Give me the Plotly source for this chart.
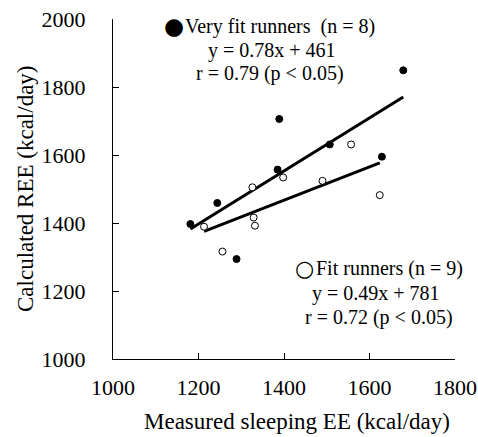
import plotly.graph_objects as go

# Data
very_fit_x = [1181, 1244, 1289, 1385, 1389, 1507, 1629, 1679]
very_fit_y = [1397, 1459, 1294, 1557, 1706, 1631, 1595, 1849]
fit_x = [1213, 1256, 1326, 1329, 1332, 1398, 1490, 1557, 1624]
fit_y = [1389, 1316, 1505, 1416, 1392, 1534, 1524, 1631, 1482]

very_fit_fit = (0.78, 461)
fit_fit = (0.49, 781)

x_ticks = [1000, 1200, 1400, 1600, 1800]
y_ticks = [1000, 1200, 1400, 1600, 1800, 2000]

very_fit_label = ["Very fit runners&nbsp;&nbsp;(n = 8)", "y = 0.78x + 461", "r = 0.79 (p < 0.05)"]
fit_label = ["Fit runners (n = 9)", "y = 0.49x + 781", "r = 0.72 (p < 0.05)"]
x_title = "Measured sleeping EE (kcal/day)"
y_title = "Calculated REE (kcal/day)"

FONT = "Liberation Serif, Times New Roman, serif"

def reg_line(xs, coef):
    x0, x1 = min(xs), max(xs)
    return [x0, x1], [coef[0] * x0 + coef[1], coef[0] * x1 + coef[1]]

fig = go.Figure()

lx, ly = reg_line(very_fit_x, very_fit_fit)
fig.add_trace(go.Scatter(x=lx, y=ly, mode="lines", line=dict(color="black", width=3), showlegend=False))
lx, ly = reg_line(fit_x, fit_fit)
fig.add_trace(go.Scatter(x=lx, y=ly, mode="lines", line=dict(color="black", width=3), showlegend=False))

fig.add_trace(go.Scatter(x=very_fit_x, y=very_fit_y, mode="markers",
                         marker=dict(color="black", size=7, line=dict(color="black", width=1)),
                         name="Very fit runners", showlegend=False))
fig.add_trace(go.Scatter(x=fit_x, y=fit_y, mode="markers",
                         marker=dict(color="white", size=7, line=dict(color="black", width=1)),
                         name="Fit runners", showlegend=False))

W, H = 478, 437
ML, MR, MT, MB = 113, 23, 19, 78
def px_to_paper(px, py):
    return (px - ML) / (W - ML - MR), 1 - (py - MT) / (H - MT - MB)

txt_font = dict(family=FONT, size=20, color="black")

block1 = [(280, 26), (272, 50), (270, 73)]
block2 = [(389, 268), (376, 293), (379, 317)]

def add_text(text, px, py, font, angle=0):
    x, y = px_to_paper(px, py)
    fig.add_annotation(x=x, y=y, xref="paper", yref="paper", showarrow=False,
                       xanchor="center", yanchor="middle", text=text, font=font,
                       textangle=angle)

for text, (px, py) in zip(very_fit_label, block1):
    add_text(text, px, py, txt_font)
for text, (px, py) in zip(fit_label, block2):
    add_text(text, px, py, txt_font)

# legend symbols next to the block headings
add_text("●", 174, 26, dict(family="DejaVu Sans", size=23, color="black"))
add_text("○", 304, 268, dict(family="DejaVu Sans", size=22, color="black"))

# axis titles
add_text(x_title, 297, 421, dict(family=FONT, size=23, color="black"))
add_text(y_title, 25, 189, dict(family=FONT, size=23, color="black"), angle=-90)

fig.update_layout(
    width=W, height=H,
    margin=dict(l=ML, r=MR, t=MT, b=MB, autoexpand=False),
    plot_bgcolor="white", paper_bgcolor="white",
    font=dict(family=FONT, size=20, color="black"),
    xaxis=dict(range=[1000, 1800], tickvals=x_ticks, ticktext=[str(v) for v in x_ticks],
               showgrid=False, zeroline=False, showline=True, linecolor="black", linewidth=1,
               ticks="inside", ticklen=6, tickcolor="black", ticklabeloverflow="allow",
               automargin=False,
               tickfont=dict(family=FONT, size=22), ticklabelstandoff=9),
    yaxis=dict(range=[1000, 2000], tickvals=y_ticks, ticktext=[str(v) for v in y_ticks],
               showgrid=False, zeroline=False, showline=True, linecolor="black", linewidth=1,
               ticks="inside", ticklen=6, tickcolor="black", ticklabeloverflow="allow",
               automargin=False,
               tickfont=dict(family=FONT, size=22), ticklabelstandoff=22),
)

fig.write_html("out.html")
